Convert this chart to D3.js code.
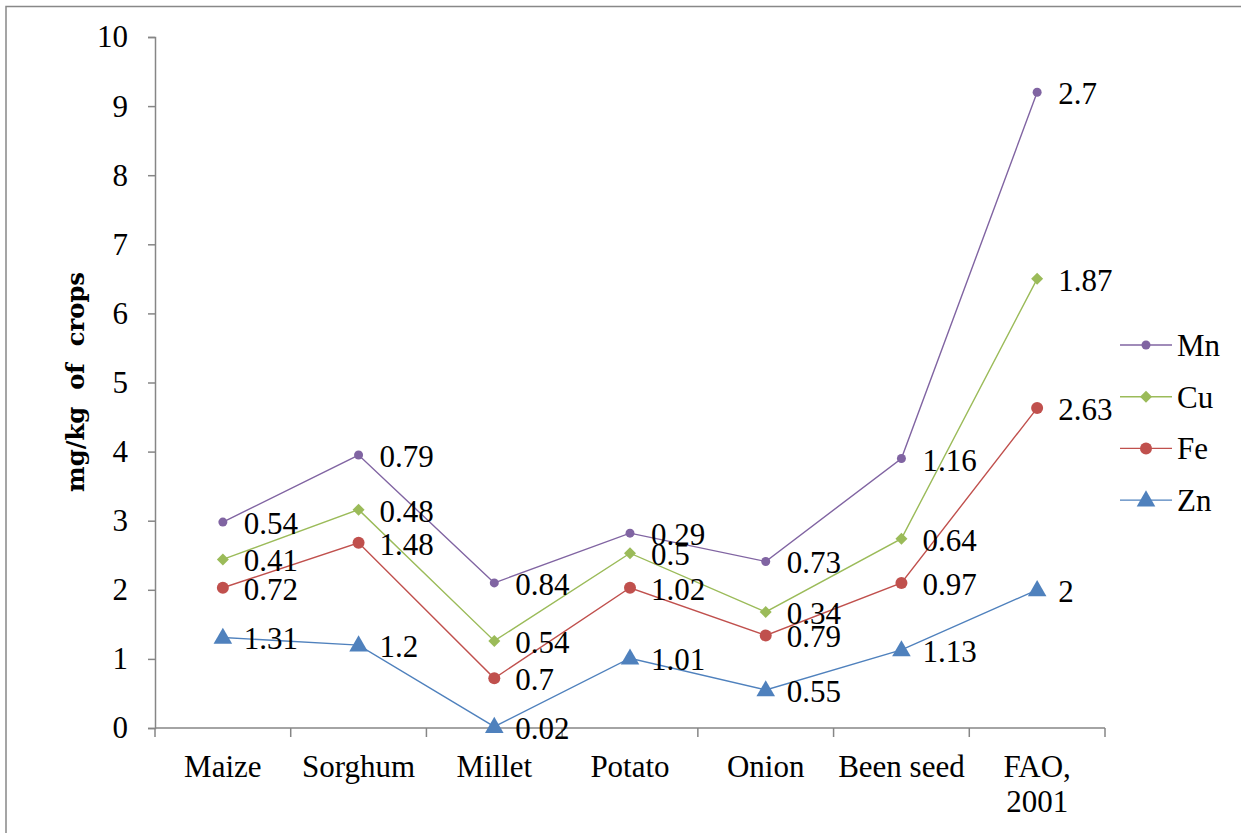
<!DOCTYPE html>
<html><head><meta charset="utf-8">
<script src="https://cdn.jsdelivr.net/npm/d3@7"></script>
<style>body{margin:0;background:#fff}svg{display:block}</style>
</head><body><svg id="c" width="1241" height="833" font-family="Liberation Serif"></svg>
<script>
const categories = ["Maize","Sorghum","Millet","Potato","Onion","Been seed","FAO, 2001"];
const seriesNames = ["Zn","Fe","Cu","Mn"];
const zn = [1.31,1.2,0.02,1.01,0.55,1.13,2];
const fe = [0.72,1.48,0.7,1.02,0.79,0.97,2.63];
const cu = [0.41,0.48,0.54,0.5,0.34,0.64,1.87];
const mn = [0.54,0.79,0.84,0.29,0.73,1.16,2.7];
const yTicks = [0,1,2,3,4,5,6,7,8,9,10];

const FONT = "Liberation Serif";
const colors = {Zn:"#4F81BD",Fe:"#C0504D",Cu:"#9BBB59",Mn:"#8064A2"};
const valuesBy = {Zn:zn,Fe:fe,Cu:cu,Mn:mn};
const svg = d3.select("#c");
svg.append("rect").attr("x",6).attr("y",6.5).attr("width",1250).attr("height",840)
  .attr("fill","none").attr("stroke","#888").attr("stroke-width",1.5);

const x = d3.scaleBand().domain(categories).range([155,1105]);
const y = d3.scaleLinear().domain([0,10]).range([728,37]);

const stackData = categories.map((c,i)=>{const o={cat:c};seriesNames.forEach(s=>o[s]=valuesBy[s][i]);return o;});
const stacked = d3.stack().keys(seriesNames)(stackData);

// y axis
const ya = svg.append("g").attr("transform","translate(155,0)")
  .call(d3.axisLeft(y).tickValues(yTicks).tickSize(7).tickPadding(20).tickFormat(d3.format("d")));
ya.attr("font-family",FONT).attr("font-size",31);
ya.select(".domain").attr("stroke","#868686").attr("stroke-width",1.5);
ya.selectAll(".tick line").attr("stroke","#868686").attr("stroke-width",1.5);
ya.selectAll("text").attr("font-size",31).attr("fill","#000").attr("font-family",FONT);

// x axis
const xa = svg.append("g").attr("transform","translate(0,728)");
xa.append("line").attr("x1",155).attr("x2",1105).attr("stroke","#868686").attr("stroke-width",1.5);
const bounds = categories.map(c=>x(c)).concat([1105]);
xa.selectAll("line.t").data(bounds).enter().append("line").attr("class","t")
  .attr("x1",d=>d).attr("x2",d=>d).attr("y1",0).attr("y2",9).attr("stroke","#868686").attr("stroke-width",1.5);
categories.forEach(c=>{
  const parts = c==="FAO, 2001" ? ["FAO,","2001"] : [c];
  const t = xa.append("text").attr("text-anchor","middle").attr("font-size",31).attr("fill","#000").attr("font-family",FONT);
  parts.forEach((p,i)=>t.append("tspan").attr("x",x(c)+x.bandwidth()/2).attr("y",49+i*35).text(p));
});

// axis title
svg.append("text").attr("transform","translate(84,382) rotate(-90)").attr("text-anchor","middle")
  .attr("font-family","DejaVu Serif").attr("font-size",24).attr("font-weight","bold").attr("xml:space","preserve")
  .attr("textLength",220).attr("lengthAdjust","spacingAndGlyphs")
  .text("mg/kg  of  crops");

function marker(g, s, cx, cy){
  if(s==="Mn") g.append("circle").attr("cx",cx).attr("cy",cy).attr("r",4.5).attr("fill",colors[s]);
  else if(s==="Fe") g.append("circle").attr("cx",cx).attr("cy",cy).attr("r",6).attr("fill",colors[s]);
  else if(s==="Cu") g.append("path").attr("d","M0,-6L6,0L0,6L-6,0Z").attr("transform",`translate(${cx},${cy})`).attr("fill",colors[s]);
  else g.append("path").attr("d",d3.symbol(d3.symbolTriangle,150)()).attr("transform",`translate(${cx},${cy+1})`).attr("fill",colors[s]);
}

const cx = c=>x(c)+x.bandwidth()/2;
const order = ["Mn","Cu","Fe","Zn"];
stacked.forEach(layer=>{
  const s = layer.key;
  const line = d3.line().x(d=>cx(d.data.cat)).y(d=>y(d[1]));
  svg.append("path").datum(layer).attr("d",line).attr("fill","none").attr("stroke",colors[s]).attr("stroke-width",1.4);
});
stacked.forEach(layer=>{
  const s = layer.key; const g = svg.append("g");
  layer.forEach(d=>marker(g,s,cx(d.data.cat),y(d[1])));
});
stacked.forEach(layer=>{
  const s = layer.key;
  layer.forEach((d,i)=>{
    svg.append("text").attr("x",cx(d.data.cat)+21).attr("y",y(d[1])+12).attr("font-size",31)
      .attr("font-family",FONT).attr("fill","#000").text(valuesBy[s][i]);
  });
});

// legend
order.forEach((s,i)=>{
  const ly = 345 + i*51.7;
  const g = svg.append("g");
  g.append("line").attr("x1",1120).attr("x2",1172).attr("y1",ly).attr("y2",ly).attr("stroke",colors[s]).attr("stroke-width",1.4);
  marker(g,s,1146,ly);
  g.append("text").attr("x",1177).attr("y",ly+11).attr("font-size",31).attr("font-family",FONT).attr("fill","#000").text(s);
});
</script></body></html>
